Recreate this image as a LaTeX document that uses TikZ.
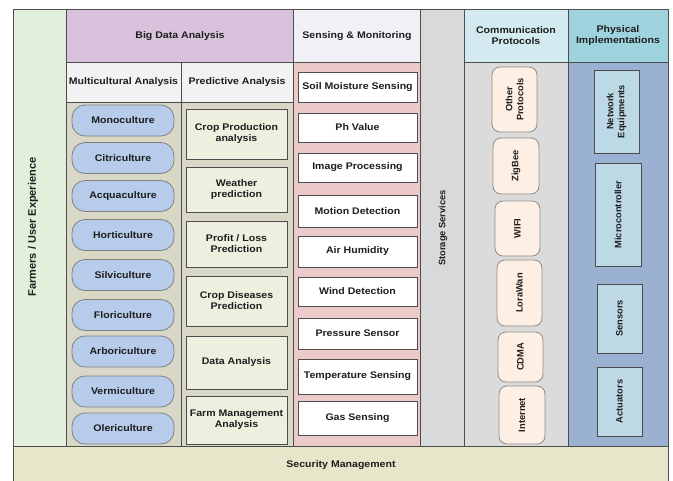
\documentclass[tikz,border=0pt]{standalone}
\usepackage{fontspec}
\setmainfont{Liberation Sans}[FakeStretch=1.1]
\newfontfamily\vfont{Liberation Sans}
\definecolor{rahmen}{HTML}{4D4D4D}
\definecolor{nutzer}{HTML}{E1EFDB}
\definecolor{bigdata}{HTML}{D9C3DC}
\definecolor{subkopf}{HTML}{F2F2F2}
\definecolor{analyse}{HTML}{D9D8C6}
\definecolor{kultur}{HTML}{B6CCEA}
\definecolor{prognose}{HTML}{EEF0DF}
\definecolor{sensorkopf}{HTML}{EFF1F6}
\definecolor{sensorik}{HTML}{ECCACA}
\definecolor{speicher}{HTML}{D9D9D9}
\definecolor{kommkopf}{HTML}{D3EBF0}
\definecolor{kommunikation}{HTML}{DBDBDB}
\definecolor{protokoll}{HTML}{FDEFE4}
\definecolor{physkopf}{HTML}{9ED3DE}
\definecolor{physik}{HTML}{9AB1D1}
\definecolor{geraet}{HTML}{BCD9E5}
\definecolor{sicherheit}{HTML}{E6E6CB}
\definecolor{schrift}{HTML}{1E1E1E}
\tikzset{
  panel/.style={draw=rahmen, line width=0.9pt},
  htext/.style={font=\fontsize{9.6}{11}\selectfont\bfseries, text=schrift, align=center},
  vtext/.style={font=\vfont\fontsize{9.3}{11}\selectfont\bfseries, text=schrift, align=center, rotate=90},
  kulturpill/.style={draw=black!50, line width=0.8pt, fill=kultur, rounded corners=13pt,
    minimum width=102pt, minimum height=31pt, inner sep=0pt, htext},
  prognosebox/.style={draw=rahmen, line width=0.8pt, fill=prognose, minimum width=101pt,
    inner sep=0pt, htext},
  sensorbox/.style={draw=rahmen, line width=0.8pt, fill=white, minimum width=119pt,
    inner sep=0pt, htext},
  protokollpill/.style={draw=black!45, line width=0.8pt, fill=protokoll, rounded corners=8pt,
    inner sep=0pt, vtext},
  geraetbox/.style={draw=rahmen, line width=0.8pt, fill=geraet, inner sep=0pt, vtext}
}
\begin{document}
\begin{tikzpicture}[x=1pt, y=-1pt]
    \useasboundingbox (0,0) rectangle (673,480);
    % Spalten und Koepfe
    \filldraw[panel, fill=nutzer] (13,9) rectangle (66,446);
    \filldraw[panel, fill=bigdata] (66,9) rectangle (293,62);
    \filldraw[panel, fill=subkopf] (66,62) rectangle (181,102);
    \filldraw[panel, fill=subkopf] (181,62) rectangle (293,102);
    \filldraw[panel, fill=analyse] (66,102) rectangle (181,446);
    \filldraw[panel, fill=analyse] (181,102) rectangle (293,446);
    \filldraw[panel, fill=sensorkopf] (293,9) rectangle (420,62);
    \filldraw[panel, fill=sensorik] (293,62) rectangle (420,446);
    \filldraw[panel, fill=speicher] (420,9) rectangle (464,446);
    \filldraw[panel, fill=kommkopf] (464,9) rectangle (568,62);
    \filldraw[panel, fill=kommunikation] (464,62) rectangle (568,446);
    \filldraw[panel, fill=physkopf] (568,9) rectangle (668,62);
    \filldraw[panel, fill=physik] (568,62) rectangle (668,446);
    \filldraw[panel, fill=sicherheit] (13,446) rectangle (668,484);

    % Beschriftung der Spalten
    \node[vtext, font=\vfont\fontsize{11}{12}\selectfont\bfseries] (farmers) at (33,227) {Farmers / User Experience};
    \node[htext] (bigdata) at (180,36) {Big Data Analysis};
    \node[htext] (multicultural) at (123.5,82) {Multicultural Analysis};
    \node[htext] (predictive) at (237,82) {Predictive Analysis};
    \node[htext] (sensing) at (357,36) {Sensing \& Monitoring};
    \node[vtext] (storage) at (443,228) {Storage Services};
    \node[htext] (communication) at (516,36) {Communication\\Protocols};
    \node[htext] (physical) at (618,36) {Physical\\Implementations};
    \node[htext] (security) at (341,465) {Security Management};

    % Multicultural Analysis
    \node[kulturpill] (mono) at (123,120.5) {Monoculture};
    \node[kulturpill] (citri) at (123,158) {Citriculture};
    \node[kulturpill] (acqua) at (123,196) {Acquaculture};
    \node[kulturpill] (horti) at (123,235) {Horticulture};
    \node[kulturpill] (silvi) at (123,275) {Silviculture};
    \node[kulturpill] (flori) at (123,315) {Floriculture};
    \node[kulturpill] (arbori) at (123,351.5) {Arboriculture};
    \node[kulturpill] (vermi) at (123,391.5) {Vermiculture};
    \node[kulturpill] (oleri) at (123,428.5) {Olericulture};

    % Predictive Analysis
    \node[prognosebox, minimum height=50pt] (cropprod) at (236.5,134) {Crop Production\\analysis};
    \node[prognosebox, minimum height=45pt] (weather) at (236.5,189.5) {Weather\\prediction};
    \node[prognosebox, minimum height=46pt] (profit) at (236.5,244) {Profit / Loss\\Prediction};
    \node[prognosebox, minimum height=50pt] (diseases) at (236.5,301) {Crop Diseases\\Prediction};
    \node[prognosebox, minimum height=53pt] (data) at (236.5,362.5) {Data Analysis};
    \node[prognosebox, minimum height=48pt] (farm) at (236.5,420) {Farm Management\\Analysis};

    % Sensing & Monitoring
    \node[sensorbox, minimum height=30pt] (soil) at (357.5,87) {Soil Moisture Sensing};
    \node[sensorbox, minimum height=29pt] (ph) at (357.5,127.5) {Ph Value};
    \node[sensorbox, minimum height=29pt] (image) at (357.5,167.5) {Image Processing};
    \node[sensorbox, minimum height=32pt] (motion) at (357.5,211) {Motion Detection};
    \node[sensorbox, minimum height=31pt] (humidity) at (357.5,251.5) {Air Humidity};
    \node[sensorbox, minimum height=29pt] (wind) at (357.5,291.5) {Wind Detection};
    \node[sensorbox, minimum height=31pt] (pressure) at (357.5,333.5) {Pressure Sensor};
    \node[sensorbox, minimum height=35pt] (temperature) at (357.5,376.5) {Temperature Sensing};
    \node[sensorbox, minimum height=34pt] (gas) at (357.5,418) {Gas Sensing};

    % Communication Protocols (hochkant: Breite = Laenge)
    \node[protokollpill, minimum width=65pt, minimum height=45pt] (other) at (514.5,99.5) {Other\\Protocols};
    \node[protokollpill, minimum width=56pt, minimum height=46pt] (zigbee) at (516,166) {ZigBee};
    \node[protokollpill, minimum width=55pt, minimum height=45pt] (wifi) at (517.5,228.5) {WIFI};
    \node[protokollpill, minimum width=66pt, minimum height=45pt] (lorawan) at (519.5,293) {LoraWan};
    \node[protokollpill, minimum width=50pt, minimum height=45pt] (cdma) at (520.5,357) {CDMA};
    \node[protokollpill, minimum width=58pt, minimum height=46pt] (internet) at (522,415) {Internet};

    % Physical Implementations
    \node[geraetbox, minimum width=83pt, minimum height=45pt] (network) at (616.5,111.5) {Network\\Equipments};
    \node[geraetbox, minimum width=103pt, minimum height=46pt] (micro) at (618,214.5) {Microcontroller};
    \node[geraetbox, minimum width=69pt, minimum height=45pt] (sensors) at (619.5,318.5) {Sensors};
    \node[geraetbox, minimum width=69pt, minimum height=45pt] (actuators) at (619.5,401.5) {Actuators};
  \end{tikzpicture}
\end{document}
